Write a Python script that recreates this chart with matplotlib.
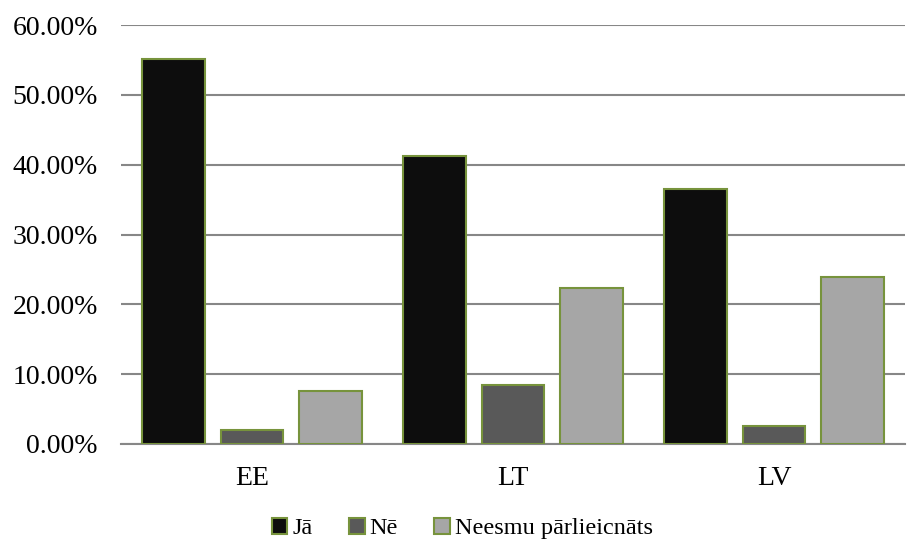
import matplotlib.pyplot as plt
import numpy as np
from matplotlib.ticker import FuncFormatter

countries = ["EE", "LT", "LV"]
ja = [55.2, 41.2, 36.5]
ne = [1.95, 8.5, 2.6]
neesmu = [7.6, 22.3, 23.9]

series = [("Jā", ja, "#0d0d0d"), ("Nē", ne, "#595959"), ("Neesmu pārlieicnāts", neesmu, "#a6a6a6")]
edge = "#77933c"

plt.rcParams['font.family'] = ['Liberation Serif', 'DejaVu Serif']

fig = plt.figure(figsize=(9.12, 5.46), dpi=100)
ax = fig.add_axes([0.133, 0.187, 0.859, 0.767])

x = np.arange(len(countries))
width = 0.24
offsets = [-0.3, 0, 0.3]
for (label, vals, color), off in zip(series, offsets):
    ax.bar(x + off, vals, width, color=color, edgecolor=edge, linewidth=1.5, label=label, zorder=3)

ax.set_xlim(-0.5, 2.5)
ax.set_ylim(0, 60)
ax.set_yticks(np.arange(0, 61, 10))
ax.yaxis.set_major_formatter(FuncFormatter(lambda v, p: f"{v:.2f}%"))
ax.set_xticks(x)
ax.set_xticklabels(countries)
ax.grid(axis='y', color='#878787', linewidth=1.5, zorder=0)
for s in ['top', 'right', 'left']:
    ax.spines[s].set_visible(False)
ax.spines['bottom'].set_color('#878787')
ax.spines['bottom'].set_linewidth(1.5)
ax.tick_params(axis='both', length=0, labelsize=20)
ax.tick_params(axis='y', pad=17)
ax.tick_params(axis='x', pad=16)

fig.legend(loc='center', bbox_to_anchor=(0.507, 0.032), ncol=3, frameon=False,
           fontsize=17.5, handlelength=0.65, handleheight=0.65, handletextpad=0.2,
           columnspacing=1.5, borderaxespad=0)

fig.savefig("out.png", dpi=100)
